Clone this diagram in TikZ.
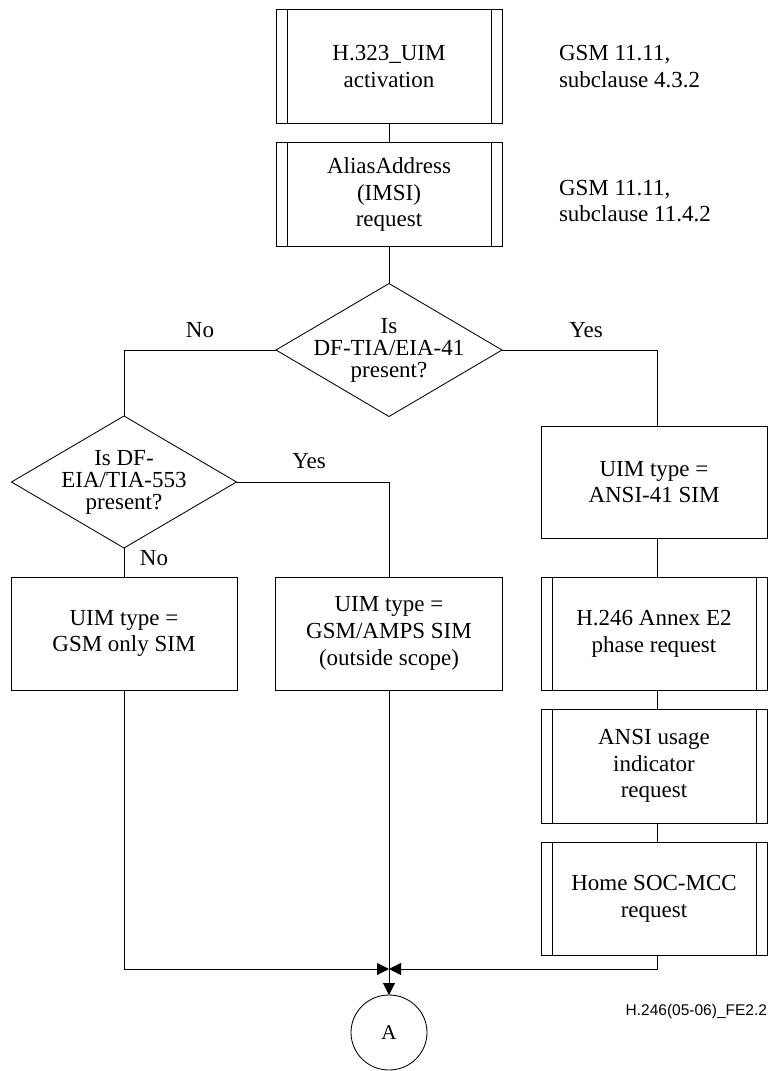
\documentclass[tikz,border=0pt]{standalone}
\usepackage{fontspec}
\setmainfont{Liberation Serif}
\newfontfamily\footfont{Liberation Sans}
\usetikzlibrary{shapes.geometric,arrows.meta,calc}
\begin{document}
\begin{tikzpicture}[x=1pt,y=-1pt,
  every node/.style={inner sep=0pt, outer sep=0pt},
  ln/.style={draw=black, line width=0.85pt},
  arr/.style={ln, -{Triangle[length=12pt,width=12pt]}},
  txt/.style={font=\fontsize{23}{26.7}\selectfont, align=center},
  proc/.style={draw=black, line width=0.85pt, rectangle, minimum width=226pt},
  subr/.style={proc, path picture={
     \draw[line width=0.85pt] ([xshift=11pt]path picture bounding box.north west) -- ([xshift=11pt]path picture bounding box.south west);
     \draw[line width=0.85pt] ([xshift=-11pt]path picture bounding box.north east) -- ([xshift=-11pt]path picture bounding box.south east);}},
  dec/.style={draw=black, line width=0.85pt, diamond, minimum width=226pt, minimum height=133pt},
  dtxt/.style={font=\fontsize{23}{22}\selectfont, align=center},
  note/.style={font=\fontsize{23}{26.7}\selectfont, align=left, anchor=west},
  lab/.style={font=\fontsize{23}{26.7}\selectfont, anchor=base}
]
\useasboundingbox (0,0) rectangle (769,1071);

% top subroutine boxes
\node[subr, minimum height=114pt] (b1) at (389,66.3) {};
\node[txt] (b1t) at (b1) {H.323\_UIM\\activation};
\node[subr, minimum height=104.5pt] (b2) at (389,194.5) {};
\node[txt] (b2t) at (b2) {AliasAddress\\(IMSI)\\request};

\node[note] (n1) at (559,66.4) {GSM 11.11,\\subclause 4.3.2};
\node[note] (n2) at (559,201) {GSM 11.11,\\subclause 11.4.2};

% decisions
\node[dec] (d1) at (389,350) {};
\node[dtxt] (d1t) at (d1) {Is\\DF-TIA/EIA-41\\present?};
\node[dec, minimum width=225pt, minimum height=132pt] (d2) at (124,482) {};
\node[dtxt] (d2t) at (d2) {Is DF-\\EIA/TIA-553\\present?};

% result boxes
\node[proc, minimum height=113pt] (gsm) at (124,633.5) {};
\node[txt] (gsmt) at (gsm) {UIM type =\\GSM only SIM};
\node[proc, minimum height=113pt, minimum width=227pt] (amps) at (389,633.5) {};
\node[txt] (ampst) at (amps) {UIM type =\\GSM/AMPS SIM\\(outside scope)};

% right column
\coordinate (rcol) at (657.5,0);
\node[proc, minimum height=112pt] (ansi) at (654,482) {};
\node[txt] (ansit) at (ansi) {UIM type =\\ANSI-41 SIM};
\node[subr, minimum height=113pt] (e2) at (654,633.5) {};
\node[txt] (e2t) at (e2) {H.246 Annex E2\\phase request};
\node[subr, minimum height=114pt] (use) at (654,766) {};
\node[txt] (uset) at (use) {ANSI usage\\indicator\\request};
\node[subr, minimum height=113pt] (home) at (654,898.5) {};
\node[txt] (homet) at (home) {Home SOC-MCC\\request};

% connector A
\node[draw=black, line width=0.85pt, ellipse, minimum width=76pt, minimum height=75pt,
      font=\fontsize{21}{24}\selectfont] (A) at (389,1032.5) {A};
\coordinate (junc) at (389,969);

% labels
\node[lab] (l1) at (200,337) {No};
\node[lab] (l2) at (586,337) {Yes};
\node[lab] (l3) at (309,468) {Yes};
\node[lab] (l4) at (154,565) {No};

\node[font=\footfont\fontsize{15.5}{18}\selectfont, anchor=base east] (fig) at (767,1015) {H.246(05-06)\_FE2.2};

% connectors
\draw[ln] (b1.south) -- (b2.north);
\draw[ln] (b2.south) -- (d1.north);
\draw[ln] (d1.west) -| (d2.north);
\draw[ln] (d1.east) -| (rcol |- ansi.north);
\draw[ln] (d2.east) -| (amps.north);
\draw[ln] (d2.south) -- (gsm.north);
\draw[ln] (rcol |- ansi.south) -- (rcol |- e2.north);
\draw[ln] (rcol |- e2.south) -- (rcol |- use.north);
\draw[ln] (rcol |- use.south) -- (rcol |- home.north);
\draw[arr] (gsm.south) |- (junc);
\draw[arr] (rcol |- home.south) |- (junc);
\draw[arr] (amps.south) -- (A.north);
\end{tikzpicture}
\end{document}
